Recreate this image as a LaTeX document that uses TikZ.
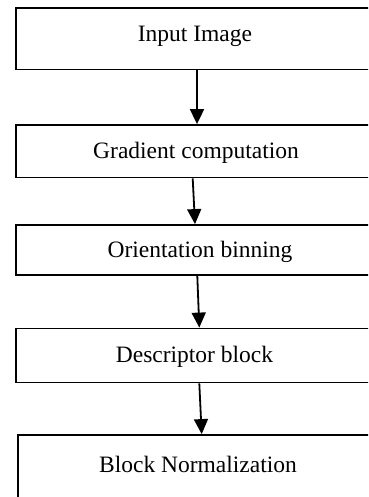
\documentclass[tikz,border=0pt]{standalone}
\usepackage{fontspec}
\setmainfont{Liberation Serif}
\usetikzlibrary{arrows.meta}
\tikzset{
  box/.style={draw=black, line width=1.8pt, rectangle, inner sep=0pt, fill=white},
  lab/.style={inner sep=0pt, font=\fontsize{23.5}{28}\selectfont},
  conn/.style={line width=1.8pt, -{Triangle[width=14pt,length=15pt]}}
}
\begin{document}
\begin{tikzpicture}[x=1pt,y=-1pt]
\path[use as bounding box] (0,0) rectangle (368,497);
\clip (0,0) rectangle (368,497);
\fill[white] (0,0) rectangle (368,497);
% boxes: left x=16, right beyond the edge
\node[box, minimum width=364pt, minimum height=61.5pt] (b1) at (198,38.75) {};
\node[box, minimum width=364pt, minimum height=52.5pt] (b2) at (198,151.25) {};
\node[box, minimum width=364pt, minimum height=50pt] (b3) at (198,250) {};
\node[box, minimum width=364pt, minimum height=54pt] (b4) at (198,355.5) {};
\node[box, minimum width=362pt, minimum height=80pt] (b5) at (199,475) {};
% labels
\node[lab] (t1) at (195,36) {Input Image};
\node[lab] (t2) at (196,153) {Gradient computation};
\node[lab] (t3) at (200,252) {Orientation binning};
\node[lab] (t4) at (194.5,357) {Descriptor block};
\node[lab] (t5) at (198,464) {Block Normalization};
% connectors
\draw[conn] (197,0 |- b1.south) -- (197,0 |- b2.north);
\draw[conn] (192.7,0 |- b2.south) -- (195,0 |- b3.north);
\draw[conn] (197.3,0 |- b3.south) -- (199.3,0 |- b4.north);
\draw[conn] (199.3,0 |- b4.south) -- (201.7,0 |- b5.north);
\end{tikzpicture}
\end{document}
